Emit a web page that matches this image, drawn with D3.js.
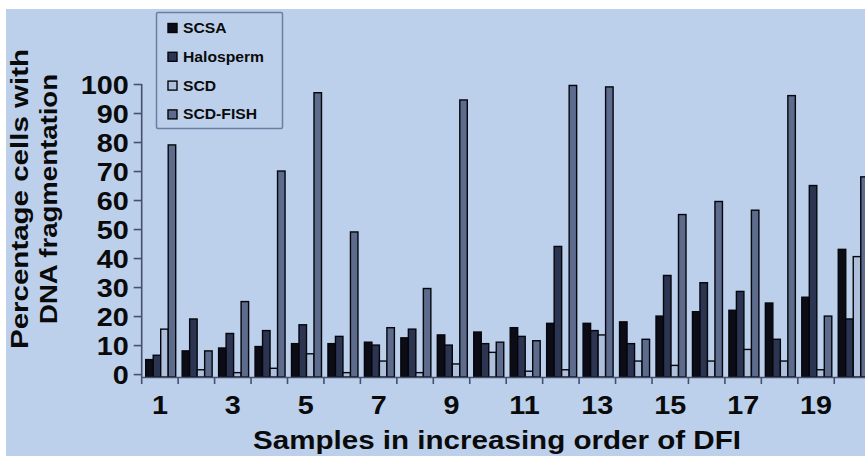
<!DOCTYPE html>
<html>
<head>
<meta charset="utf-8">
<script src="https://cdn.jsdelivr.net/npm/d3@7"></script>
<style>
  html, body { margin: 0; padding: 0; background: #ffffff; }
  svg { display: block; font-family: "Liberation Sans", Arial, sans-serif; }
</style>
</head>
<body>
<svg id="chart" width="865" height="456"></svg>
<script>
// ---- data ----
const samples = ["1","2","3","4","5","6","7","8","9","10","11","12","13","14","15","16","17","18","19","20"];
const seriesNames = ["SCSA", "Halosperm", "SCD", "SCD-FISH"];
const scsa      = [5, 8, 9, 9.5, 10.5, 10.5, 11, 12.5, 13.5, 14.5, 16, 17.5, 17.5, 18, 20, 21.5, 22, 24.5, 26.5, 43];
const halosperm = [6.5, 19, 14, 15, 17, 13, 10, 15.5, 10, 10.5, 13, 44, 15, 10.5, 34, 31.5, 28.5, 12, 65, 19];
const scd       = [15.5, 1.5, 0.5, 2, 7, 0.5, 4.5, 0.5, 3.5, 7.5, 1, 1.5, 13.5, 4.5, 3, 4.5, 8.5, 4.5, 1.5, 40.5];
const scdFish   = [79, 8, 25, 70, 97, 49, 16, 29.5, 94.5, 11, 11.5, 99.5, 99, 12, 55, 59.5, 56.5, 96, 20, 68];
const yTicks = [0, 10, 20, 30, 40, 50, 60, 70, 80, 90, 100];
const xTickLabels = ["1","3","5","7","9","11","13","15","17","19"];
const yTitle = ["Percentage cells with", "DNA fragmentation"];
const xTitle = "Samples  in increasing order of DFI";

const seriesValues = [scsa, halosperm, scd, scdFish];
const colors = ["#0b0c16", "#2b3552", "#aebfdc", "#5d6b8d"];

// ---- layout ----
const svg = d3.select("#chart");
const W = 865, H = 456;
const bg = "#bcd0ec";
const axisColor = "#45506c";
const step = 36.45;
const x0Start = 141.7;

svg.append("rect").attr("x", 0).attr("y", 0).attr("width", W).attr("height", H).attr("fill", "#ffffff");
svg.append("rect").attr("x", 6).attr("y", 9).attr("width", W - 6).attr("height", H - 9).attr("fill", bg);

const x0 = d3.scaleBand().domain(samples).range([x0Start, x0Start + step * samples.length]).padding(0);
const x1 = d3.scaleBand().domain(seriesNames).range([4, 34]).padding(0);
const y = d3.scaleLinear().domain([-1, 100]).range([377, 84]);

function stretch(sel, f) {
  sel.each(function() {
    const len = this.getComputedTextLength();
    d3.select(this).attr("textLength", len * f).attr("lengthAdjust", "spacingAndGlyphs");
  });
}

// bars
const groups = svg.append("g").selectAll("g")
  .data(samples)
  .join("g")
  .attr("transform", d => `translate(${x0(d)},0)`);

groups.selectAll("rect")
  .data((d, i) => seriesNames.map((s, k) => ({ s, k, v: seriesValues[k][i] })))
  .join("rect")
  .attr("x", d => x1(d.s))
  .attr("width", x1.bandwidth())
  .attr("y", d => y(d.v))
  .attr("height", d => y(-1) - y(d.v))
  .attr("fill", d => colors[d.k])
  .attr("stroke", "#05060c")
  .attr("stroke-width", 1.4);

// y axis
const yAxis = svg.append("g")
  .attr("transform", `translate(${x0Start},0)`)
  .call(d3.axisLeft(y).tickValues(yTicks).tickSize(8).tickPadding(5).tickSizeOuter(0));
yAxis.select(".domain").attr("stroke", axisColor).attr("stroke-width", 1.6)
  .attr("d", `M0,${y(100)}V${y(-1)}`);
yAxis.selectAll(".tick line").attr("stroke", axisColor).attr("stroke-width", 1.6);
yAxis.selectAll(".tick text")
  .attr("fill", "#0a0a0a")
  .style("font-size", "25px")
  .style("font-weight", "bold")
  .attr("dy", "0.36em")
  .call(stretch, 1.15);

// x axis line
const xAxis = svg.append("g")
  .attr("transform", `translate(0,${y(-1)})`)
  .call(d3.axisBottom(x0).tickValues(xTickLabels).tickSize(0).tickPadding(19).tickSizeOuter(0));
xAxis.select(".domain").attr("stroke", axisColor).attr("stroke-width", 1.6);
xAxis.selectAll(".tick text")
  .attr("fill", "#0a0a0a")
  .style("font-size", "25px")
  .style("font-weight", "bold")
  .call(stretch, 1.15);

// boundary ticks between groups
svg.append("g").selectAll("line")
  .data(samples)
  .join("line")
  .attr("x1", d => x0(d)).attr("x2", d => x0(d))
  .attr("y1", y(-1)).attr("y2", y(-1) + 7)
  .attr("stroke", axisColor).attr("stroke-width", 1.6);

// y title
const yTitleLen = [300, 250];
const yt = svg.append("text")
  .attr("transform", "translate(0,199) rotate(-90)")
  .attr("text-anchor", "middle")
  .style("font-size", "23px")
  .style("font-weight", "bold")
  .attr("fill", "#0a0a0a");
yt.selectAll("tspan")
  .data(yTitle)
  .join("tspan")
  .attr("x", 0)
  .attr("y", (d, i) => i === 0 ? 28 : 57)
  .attr("textLength", (d, i) => yTitleLen[i])
  .attr("lengthAdjust", "spacingAndGlyphs")
  .text(d => d);

// x title
svg.append("text")
  .attr("x", 497).attr("y", 449)
  .attr("text-anchor", "middle")
  .style("font-size", "25px")
  .style("font-weight", "bold")
  .attr("fill", "#0a0a0a")
  .attr("textLength", 488)
  .attr("lengthAdjust", "spacingAndGlyphs")
  .text(xTitle);

// legend
const lg = svg.append("g");
lg.append("rect")
  .attr("x", 156.5).attr("y", 12.5).attr("width", 126).attr("height", 116)
  .attr("fill", bg).attr("stroke", "#6d7ca0").attr("stroke-width", 1.5).attr("rx", 1.5);
const items = lg.selectAll("g.item")
  .data(seriesNames)
  .join("g")
  .attr("class", "item")
  .attr("transform", (d, i) => `translate(168,${28 + i * 28.8})`);
items.append("rect")
  .attr("x", 0).attr("y", -4.5).attr("width", 9).attr("height", 9)
  .attr("fill", (d, i) => colors[i])
  .attr("stroke", "#05060c").attr("stroke-width", 1.4);
items.append("text")
  .attr("x", 15).attr("y", 0).attr("dy", "0.36em")
  .style("font-size", "14px")
  .style("font-weight", "bold")
  .attr("fill", "#0a0a0a")
  .text(d => d)
  .call(stretch, 1.12);
</script>
</body>
</html>
